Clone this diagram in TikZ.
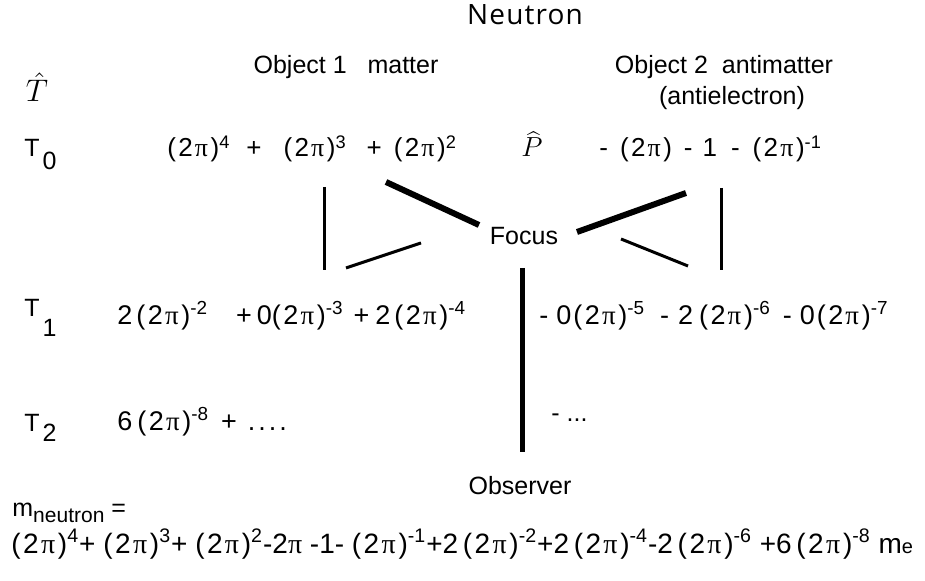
\documentclass[tikz,border=0pt]{standalone}
\usepackage{fontspec}
\setmainfont{Liberation Sans}
\newfontfamily\titlefont[LetterSpace=4]{Open Sans}
\newfontfamily\pifont{Liberation Serif}
\usepackage{tikz}
\usetikzlibrary{positioning}

\newcommand{\tp}{(\kern0.09em2\kern0.08em{\pifont π}\kern0.1em)}
\newcommand{\pw}[1]{\textsuperscript{#1}}

\begin{document}
\begin{tikzpicture}[x=0.5pt, y=-0.5pt,
		txt/.style={inner sep=0pt, anchor=base, font=\fontsize{12.5}{15}\selectfont},
		expr/.style={txt, anchor=base west},
		linkthin/.style={line width=1.5pt},
		linkthick/.style={line width=3pt}
	]

	\useasboundingbox (0,0) rectangle (925,581);

	% Title and objects
	\node[txt, font=\titlefont\fontsize{14}{16}\selectfont] (title) at (525,25) {Neutron};
	\node[txt] (obj1) at (346,74) {Object 1\ \ \ matter};
	\node[txt] (obj2) at (724,74) {Object 2\ \ antimatter};
	\node[txt] (anti) at (732,105) {(antielectron)};

	% Time labels
	\node[txt] (that) at (37,102) {\scalebox{1.3}{$\hat{T}$}};
	\node[expr] (t0) at (24,157) {T\hspace{1.5pt}\raisebox{-6.5pt}{0}};
	\node[expr] (t1) at (24,317) {T\hspace{1.5pt}\raisebox{-10pt}{1}};
	\node[expr] (t2) at (24,432) {T\hspace{1.5pt}\raisebox{-5pt}{2}};

	% T0 row
	\node[expr, font=\fontsize{13}{15}\selectfont] (m0) at (167,157) {\tp\pw{4}\hspace{8pt}+\hspace{11pt}\tp\pw{3}\hspace{10pt}+\hspace{6pt}\tp\pw{2}};
	\node[expr] (phat) at (521,157) {\scalebox{1.15}{$\widehat{P}$}};
	\node[expr, font=\fontsize{13}{15}\selectfont] (a0) at (599,157) {-\hspace{6pt}\tp\hspace{6pt}-\hspace{5pt}1\hspace{7pt}-\hspace{6.5pt}\tp\pw{-1}};

	% Focus
	\node[txt] (focus) at (524,245) {Focus};

	% T1 row
	\node[expr, font=\fontsize{13.5}{15}\selectfont] (m1) at (117,325) {2\hspace{2pt}\tp\pw{-2}\hspace{14pt}+\hspace{2.5pt}0\tp\pw{-3}\hspace{5pt}+\hspace{3pt}2\hspace{2pt}\tp\pw{-4}};
	\node[expr, font=\fontsize{13.5}{15}\selectfont] (a1) at (539,325) {-\hspace{4pt}0\hspace{1pt}\tp\pw{-5}\hspace{7.5pt}-\hspace{4.5pt}2\hspace{3pt}\tp\pw{-6}\hspace{6pt}-\hspace{4pt}0\hspace{1pt}\tp\pw{-7}};

	% T2 row
	\node[expr, font=\fontsize{13.5}{15}\selectfont] (m2) at (117,431) {6\hspace{2.5pt}\tp\pw{-8}\hspace{6pt}+\hspace{5.5pt}.\kern1.5pt.\kern1.5pt.\kern1.5pt.};
	\node[expr] (a2) at (551,422) {-\ ...};

	% Observer
	\node[txt] (obs) at (520,495) {Observer};

	% Mass
	\node[expr] (mass) at (12,517) {m{\fontsize{10.5}{12}\selectfont\raisebox{-2.5pt}{neutron}}\ =};
	\node[expr, font=\fontsize{14}{16}\selectfont] (sum) at (11,553) {\tp\pw{4}+\ \tp\pw{3}+\ \tp\pw{2}-2{\pifont π}\ -1-\ \tp\pw{-1}+2\,\tp\pw{-2}+2\,\tp\pw{-4}-2\,\tp\pw{-6}\ +6\,\tp\pw{-8}\ m{\fontsize{10}{12}\selectfont e}};

	% Lines
	\coordinate (l1a) at (324,187);
	\coordinate (l1b) at (324,270);
	\coordinate (d1a) at (386,182);
	\coordinate (d1b) at (479,225);
	\coordinate (d2a) at (346,268);
	\coordinate (d2b) at (421,243);
	\coordinate (d3a) at (577,232);
	\coordinate (d3b) at (686,193);
	\coordinate (d4a) at (621,239);
	\coordinate (d4b) at (688,266);
	\coordinate (l2a) at (721,188);
	\coordinate (l2b) at (721,270);
	\coordinate (oa) at (522,268);
	\coordinate (ob) at (522,452);

	\draw[linkthin] (l1a) -- (l1b);
	\draw[linkthick] (d1a) -- (d1b);
	\draw[linkthin] (d2a) -- (d2b);
	\draw[linkthick] (d3a) -- (d3b);
	\draw[linkthin] (d4a) -- (d4b);
	\draw[linkthin] (l2a) -- (l2b);
	\draw[line width=2.5pt] (oa) -- (ob);
\end{tikzpicture}
\end{document}
